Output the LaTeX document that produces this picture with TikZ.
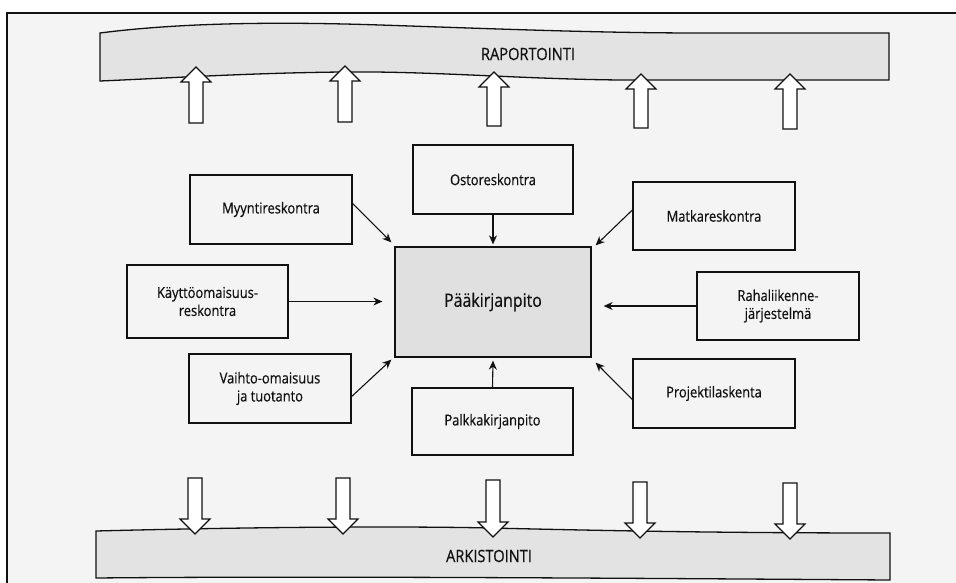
\documentclass[tikz,border=0pt]{standalone}
\usepackage{fontspec}
\setmainfont{Open Sans}[FakeStretch=0.86,FakeBold=0.5]
\usetikzlibrary{arrows.meta,calc}
\definecolor{bgc}{HTML}{F4F4F4}
\definecolor{bandc}{HTML}{E3E3E3}
\definecolor{mainc}{HTML}{E0E0E0}
\definecolor{inkc}{HTML}{111111}
\newcommand\myuparrow[3]{\draw[bigarr] (#1,#2) -- (#1+15,#2+15) -- (#1+7,#2+15) -- (#1+7,#3) -- (#1-7,#3) -- (#1-7,#2+15) -- (#1-15,#2+15) -- cycle;}
\newcommand\mydownarrow[3]{\draw[bigarr] (#1,#2) -- (#1+15,#2-15) -- (#1+7,#2-15) -- (#1+7,#3) -- (#1-7,#3) -- (#1-7,#2-15) -- (#1-15,#2-15) -- cycle;}
\tikzset{
  box/.style={draw=inkc, line width=1.3pt, fill=bgc, inner sep=0pt, align=center,
    font=\fontsize{15}{18}\selectfont, text=inkc},
  mainbox/.style={box, fill=mainc, font=\fontsize{18.5}{22}\selectfont},
  band/.style={draw=inkc, line width=1.3pt, fill=bandc},
  bandtext/.style={font=\fontsize{17}{20}\selectfont, text=inkc, inner sep=0pt},
  bigarr/.style={draw=inkc, line width=1.2pt, fill=white, line join=miter},
  conn/.style={draw=inkc, line width=1.1pt, -{Stealth[length=9pt,width=8pt]}},
}
\begin{document}
\begin{tikzpicture}[x=1pt,y=-1pt]
\useasboundingbox (0,0) rectangle (956,583);
\fill[white] (0,0) rectangle (956,583);
\fill[bgc] (7,13) rectangle (956,583);
\draw[inkc, line width=1.6pt] (7,583) -- (7,13) -- (956,13);

% top band
\draw[band] (100,33) .. controls (170,24) and (260,21) .. (380,25)
  .. controls (500,29) and (600,33) .. (700,33) -- (889,33) -- (889,80)
  -- (620,80) .. controls (520,79) and (430,71) .. (342,72)
  .. controls (250,73) and (170,78) .. (100,81) -- cycle;
\node[bandtext] (rap) at (528,54) {RAPORTOINTI};

% bottom band
\draw[band] (96,531) .. controls (250,527) and (400,526) .. (490,528)
  .. controls (580,530) and (700,533) .. (890,533) -- (890,580)
  .. controls (600,578) and (300,576) .. (96,578) -- cycle;
\node[bandtext] (ark) at (489,556) {ARKISTOINTI};

% up arrows
\myuparrow{196}{67}{123}
\myuparrow{345}{66}{122}
\myuparrow{494}{72}{126}
\myuparrow{641}{74}{128}
\myuparrow{790}{74}{129}

% down arrows
\mydownarrow{195}{534}{478}
\mydownarrow{343}{534}{478}
\mydownarrow{493}{537}{480}
\mydownarrow{640}{538}{482}
\mydownarrow{790}{539}{483}

% boxes
\node[box, minimum width=160pt, minimum height=69pt] (osto) at (493,179.5) {Ostoreskontra};
\node[box, minimum width=162pt, minimum height=69pt] (myynti) at (271,209.5) {Myyntireskontra};
\node[box, minimum width=162pt, minimum height=68pt] (matka) at (714,216) {Matkareskontra};
\node[box, minimum width=161pt, minimum height=73pt] (kaytto) at (207.5,301.5) {Käyttöomaisuus-\\reskontra};
\node[mainbox, minimum width=196pt, minimum height=110pt] (paa) at (493,302) {Pääkirjanpito};
\node[box, minimum width=162pt, minimum height=68pt] (raha) at (778,306) {Rahaliikenne-\\järjestelmä};
\node[box, minimum width=162pt, minimum height=69pt] (vaihto) at (270,388.5) {Vaihto-omaisuus\\ja tuotanto};
\node[box, minimum width=161pt, minimum height=67pt] (palkka) at (492.5,421.5) {Palkkakirjanpito};
\node[box, minimum width=162pt, minimum height=69pt] (projekti) at (714,393.5) {Projektilaskenta};

% connectors
\draw[conn] ($(myynti.east)+(0,-6)$) -- ($(paa.north west)+(-3,-4)$);
\draw[conn] (osto.south) -- ($(paa.north)+(0,-2)$);
\draw[conn] ($(matka.west)+(0,-6)$) -- ($(paa.north east)+(4,-1)$);
\draw[conn] (kaytto.east) -- ($(kaytto.east -| paa.west)+(-12,0)$);
\draw[conn] (raha.west) -- ($(raha.west -| paa.east)+(12,0)$);
\draw[conn] ($(vaihto.east)+(0,8)$) -- ($(paa.south west)+(-3,2)$);
\draw[conn] (palkka.north) -- ($(paa.south)+(0,3)$);
\draw[conn] ($(projekti.west)+(0,6)$) -- ($(paa.south east)+(4,5)$);
\end{tikzpicture}
\end{document}
